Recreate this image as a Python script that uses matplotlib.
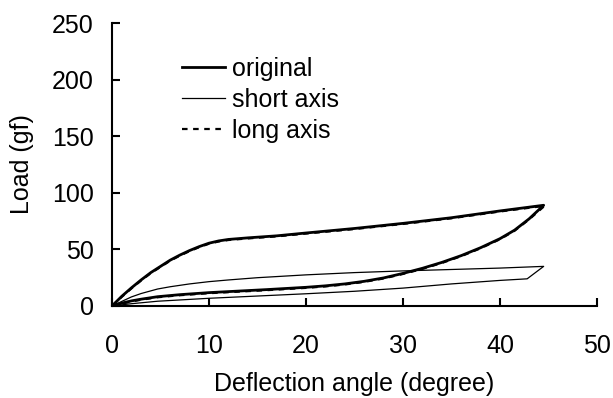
import numpy as np
from matplotlib import pyplot as plt

# deflection angle (degree) and load (gf), read off the reference
# original: loading then unloading branch
orig_up_x = [0, 1, 2, 3, 4, 5, 6, 7, 8, 9, 10, 11, 12, 14, 17, 20, 25, 30, 35, 40, 44.5]
orig_up_y = [0, 8.5, 16, 23, 29.5, 35, 40.5, 45, 49, 52.5, 55.5, 57.5, 58.8, 60.2, 62, 64.5, 68.5, 73, 78, 84, 89]
orig_dn_x = [44.5, 43, 41.5, 40, 38, 36, 34, 32, 30, 28, 26, 24, 22, 20, 16, 12, 10, 7, 4.7, 3, 2, 1, 0]
orig_dn_y = [89, 77, 67, 59.5, 51.5, 44.5, 38.5, 33.3, 28.8, 24.8, 21.8, 19.5, 17.8, 16.5, 14.5, 12.7, 11.8, 10, 8.2, 6, 4.5, 2.5, 0]

# short axis
short_up_x = [0, 1, 2, 3, 4.7, 6, 8, 10, 12, 15, 20, 25, 30, 36, 40, 44.5]
short_up_y = [0, 4, 8, 11, 15, 17, 19.5, 21.5, 23, 25, 27.5, 29.5, 31, 32.5, 33.5, 35]
short_dn_x = [44.5, 42.8, 40, 35, 30, 25, 20, 15, 10, 4.7, 2, 0]
short_dn_y = [35, 24, 22.6, 19.5, 15.8, 13, 10.8, 8.8, 6.8, 4.2, 2, 0]

# long axis (almost on top of the original curve)
long_up_x = [0, 1, 2, 3, 4, 5, 6, 7, 8, 9, 10, 11, 12, 14, 17, 20, 25, 30, 35, 40, 44.6]
long_up_y = [0, 8, 15.5, 22.5, 29, 34.5, 40, 44.5, 48.5, 52, 55, 57, 58.3, 59.7, 61.5, 64, 68, 72.5, 77.5, 83.5, 88.5]
long_dn_x = [44.6, 43, 41.5, 40, 38, 36, 34, 32, 30, 28, 26, 24, 22, 20, 16, 12, 10, 7, 4.7, 3, 2, 1, 0]
long_dn_y = [88.5, 76.5, 66.5, 59, 51, 44, 38, 32.8, 28.3, 24.3, 21.3, 19, 17.3, 16, 14, 12.2, 11.3, 9.5, 7.7, 5.5, 4, 2, 0]

x_ticks = [0, 10, 20, 30, 40, 50]
y_ticks = [0, 50, 100, 150, 200, 250]

plt.rcParams['font.family'] = ['Liberation Sans', 'DejaVu Sans']

fig = plt.figure(figsize=(6.13, 3.98), dpi=100)
ax = fig.add_axes([0.1827, 0.2312, 0.7912, 0.7108])

ax.plot(orig_up_x + orig_dn_x, orig_up_y + orig_dn_y, color='black', lw=2.0,
        label='original', solid_joinstyle='round')
ax.plot(short_up_x + short_dn_x, short_up_y + short_dn_y, color='black', lw=0.9,
        label='short axis')
ax.plot(long_up_x + long_dn_x, long_up_y + long_dn_y, color='black', lw=1.6,
        linestyle=(0, (2.5, 2.5)), label='long axis')

ax.set_xlim(0, 50)
ax.set_ylim(0, 250)
ax.set_xticks(x_ticks)
ax.set_yticks(y_ticks)
ax.spines['top'].set_visible(False)
ax.spines['right'].set_visible(False)
for s in ['left', 'bottom']:
    ax.spines[s].set_linewidth(1.5)
ax.tick_params(axis='both', direction='in', length=6, width=1.5, labelsize=18)
ax.tick_params(axis='x', pad=20)
ax.tick_params(axis='y', pad=13)

ax.set_xlabel('Deflection angle (degree)', fontsize=18, labelpad=10)
ax.set_ylabel('Load (gf)', fontsize=18, labelpad=13)

ax.legend(loc='upper left', bbox_to_anchor=(0.145, 0.88), frameon=False,
          fontsize=18, handlelength=1.7, handletextpad=0.3, labelspacing=0.28,
          borderpad=0, borderaxespad=0)

plt.savefig('out.png', dpi=100)
